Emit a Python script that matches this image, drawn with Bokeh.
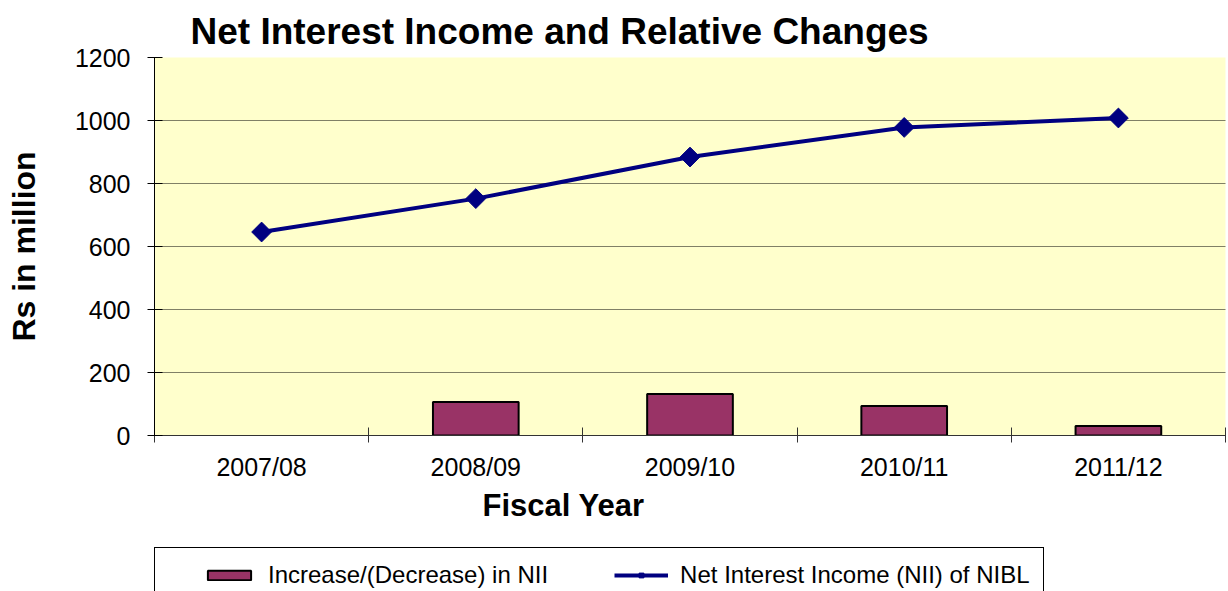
import math
import numpy as np
from bokeh.plotting import figure
from bokeh.layouts import column
from bokeh.models import (Range1d, FixedTicker, Legend, LegendItem, Title, ColumnDataSource)
from bokeh.embed import file_html
from bokeh.resources import INLINE

# ---- data ----
categories = ["2007/08", "2008/09", "2009/10", "2010/11", "2011/12"]
nii = [646, 752, 884, 978, 1008]
nii_change = [None, 106, 132, 94, 30]
y_ticks = [0, 200, 400, 600, 800, 1000, 1200]

FONT = "Liberation Sans"
BAR_FILL = "#993366"
LINE_COL = "#000080"

# category slots on a numeric axis: slot i spans [i, i+1], centre i+0.5
centres = [i + 0.5 for i in range(len(categories))]
edges = list(range(len(categories) + 1))

source = ColumnDataSource(dict(
    x=centres,
    cat=categories,
    nii=nii,
    chg=np.array([np.nan if v is None else v for v in nii_change], dtype=float),
))

p = figure(width=1228, height=540,
           x_range=Range1d(edges[0], edges[-1]), y_range=Range1d(y_ticks[0], y_ticks[-1]),
           output_backend="svg", toolbar_location=None,
           min_border_left=154, min_border_right=3, min_border_top=57, min_border_bottom=105)

p.background_fill_color = "#FFFFCC"
p.border_fill_color = "white"
p.outline_line_color = None

# title
p.title.text = "Net Interest Income and Relative Changes"
p.title.align = "left"
p.title.offset = 36
p.title.text_font = FONT
p.title.text_font_size = "37px"
p.title.text_font_style = "bold"
p.title.text_color = "black"
p.title.standoff = 11

# y axis
ya = p.yaxis[0]
ya.ticker = FixedTicker(ticks=y_ticks, minor_ticks=[])
ya.major_tick_in = 8
ya.major_tick_out = 7
ya.major_label_standoff = 17
ya.major_label_text_font = FONT
ya.major_label_text_font_size = "25px"
ya.major_label_text_color = "black"
ya.axis_line_color = "black"
ya.major_tick_line_color = "black"
ya.minor_tick_line_color = None
ya.axis_label = "Rs in million"
ya.axis_label_text_font = FONT
ya.axis_label_text_font_size = "32px"
ya.axis_label_text_font_style = "bold"
ya.axis_label_text_color = "black"
ya.axis_label_standoff = 30

# x axis: labels at slot centres (major), tick marks at slot edges (minor)
xa = p.xaxis[0]
xa.ticker = FixedTicker(ticks=centres, minor_ticks=edges)
xa.major_label_overrides = {c: lab for c, lab in zip(centres, categories)}
xa.major_tick_line_color = None
xa.major_tick_in = 0
xa.major_tick_out = 0
xa.minor_tick_line_color = "#333333"
xa.minor_tick_in = 8
xa.minor_tick_out = 7
xa.axis_line_color = "#333333"
xa.major_label_standoff = 10
xa.major_label_text_font = FONT
xa.major_label_text_font_size = "25px"
xa.major_label_text_color = "black"

xlabel = Title(text="Fiscal Year", align="left", offset=328, text_font=FONT,
               text_font_size="31px", text_font_style="bold", text_color="black", standoff=5)
p.add_layout(xlabel, "below")

# grid
p.xgrid.visible = False
p.ygrid.ticker = FixedTicker(ticks=y_ticks[1:-1])
p.ygrid.grid_line_color = "black"
p.ygrid.grid_line_dash = "1 1"
p.ygrid.grid_line_width = 1

# glyphs
bars = p.vbar(x="x", top="chg", width=0.4, source=source,
              fill_color=BAR_FILL, line_color="black", line_width=2)
line_r = p.line(x="x", y="nii", source=source, line_color=LINE_COL, line_width=4)
pts = p.scatter(x="x", y="nii", source=source, marker="square", angle=math.pi / 4,
                size=14, fill_color=LINE_COL, line_color=LINE_COL)

# ---- legend strip (separate canvas under the chart) ----
# legend-only renderers: one row of NaN, so nothing is drawn except the swatches
leg = figure(width=1228, height=51, title=None,
             x_range=Range1d(0, 1), y_range=Range1d(0, 1),
             x_axis_location=None, y_axis_location=None,
             output_backend="svg", toolbar_location=None,
             min_border=0, min_border_left=0, min_border_right=0,
             min_border_top=0, min_border_bottom=0)
leg.outline_line_color = None
leg.background_fill_color = "white"
leg.border_fill_color = "white"
leg.grid.visible = False

swatch_src = ColumnDataSource(dict(x=[np.nan], y=[np.nan], top=[np.nan]))
lb = leg.vbar(x="x", top="top", width=0.4, source=swatch_src,
              fill_color=BAR_FILL, line_color="black", line_width=2)
ll = leg.line(x="x", y="y", source=swatch_src, line_color=LINE_COL, line_width=4)
lp = leg.scatter(x="x", y="y", source=swatch_src, marker="square", angle=math.pi / 4,
                 size=9, fill_color=LINE_COL, line_color=LINE_COL)

# a blank left-hand title leaves room before the first swatch
legend = Legend(items=[LegendItem(label="Increase/(Decrease) in NII", renderers=[lb]),
                       LegendItem(label="Net Interest Income (NII) of NIBL", renderers=[ll, lp])],
                orientation="horizontal", location=(0, -12), padding=13, spacing=66,
                glyph_width=54, glyph_height=12, label_standoff=12, margin=0,
                title=" ", title_location="left", title_text_font_size="2px", title_standoff=32,
                label_text_font=FONT, label_text_font_size="24px", label_text_color="black",
                border_line_color="black", border_line_width=1, border_line_alpha=1,
                background_fill_color="white", background_fill_alpha=1)
leg.add_layout(legend)

layout = column(p, leg, spacing=0)

open("out.html", "w").write(file_html(layout, INLINE))
